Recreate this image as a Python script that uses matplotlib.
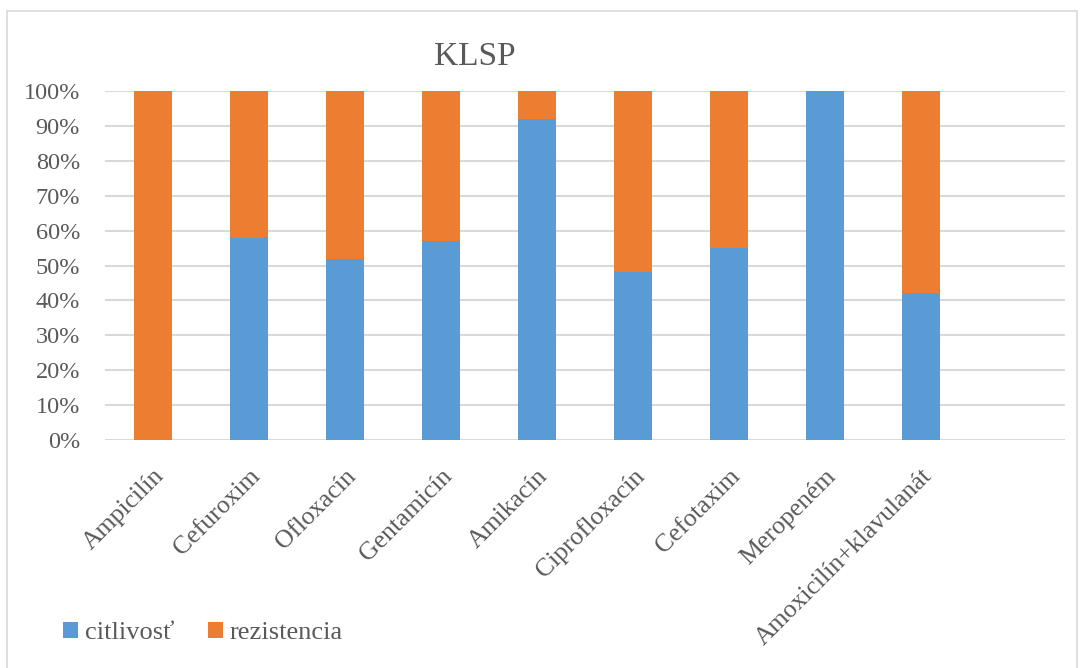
import numpy as np
import matplotlib.pyplot as plt
from matplotlib.patches import Rectangle
from matplotlib.ticker import PercentFormatter

# antibiotics tested and the share of susceptible / resistant isolates
antibiotics = ['Ampicilín', 'Cefuroxim', 'Ofloxacín', 'Gentamicín', 'Amikacín',
               'Ciprofloxacín', 'Cefotaxim', 'Meropeném', 'Amoxicilín+klavulanát']
citlivost = [0, 58, 52, 57, 92, 48, 55, 100, 42]
rezistencia = [100, 42, 48, 43, 8, 52, 45, 0, 58]
series_names = ['citlivosť', 'rezistencia']

blue = '#5B9BD5'
orange = '#ED7D31'
grid_col = '#D9D9D9'
text_col = '#595959'

plt.rcParams['font.family'] = ['Liberation Serif', 'DejaVu Serif']

fig = plt.figure(figsize=(10.83, 6.68), dpi=100)
fig.patches.append(Rectangle((7 / 1083, -0.1), 1070 / 1083, 1.1 - 11 / 668,
                             transform=fig.transFigure, fill=False,
                             edgecolor=grid_col, linewidth=1.2))

ax = fig.add_axes([105 / 1083, 1 - 440 / 668, 960 / 1083, 349 / 668])
x = np.arange(len(antibiotics))
b1 = ax.bar(x, citlivost, width=0.4, color=blue, zorder=3)
b2 = ax.bar(x, rezistencia, width=0.4, bottom=citlivost, color=orange, zorder=3)

# one empty slot is left on the right of the category axis
ax.set_xlim(-0.5, len(antibiotics) + 0.5)
ax.set_ylim(0, 100)
ax.set_yticks(np.arange(0, 101, 10))
ax.yaxis.set_major_formatter(PercentFormatter(decimals=0))
ax.grid(axis='y', color=grid_col, linewidth=1.5, zorder=0)
ax.tick_params(axis='y', length=0, pad=18, labelsize=17.5, labelcolor=text_col)
ax.tick_params(axis='x', length=0, pad=18)
for s in ax.spines.values():
    s.set_visible(False)

ax.set_xticks(x)
ax.set_xticklabels(antibiotics, rotation=45, ha='right', rotation_mode='anchor',
                   fontsize=18.5, color=text_col)

fig.text(475 / 1083, 1 - 57 / 668, 'KLSP', ha='center', va='center',
         fontsize=24, color=text_col)

leg = fig.legend([b1, b2], series_names, loc='center left',
                 bbox_to_anchor=(63 / 1083, 1 - 633 / 668), ncol=2, frameon=False,
                 borderpad=0, borderaxespad=0,
                 prop={'size': 19}, handlelength=0.57, handleheight=0.57,
                 handletextpad=0.25, columnspacing=1.28, labelcolor=text_col)

fig.savefig('out.png', dpi=100)
